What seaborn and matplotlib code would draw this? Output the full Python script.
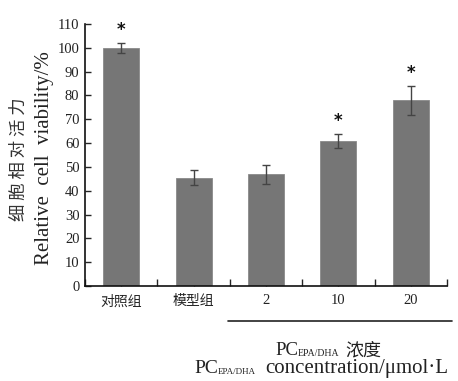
import matplotlib
matplotlib.use("Agg")
import matplotlib.pyplot as plt
import seaborn as sns
import pandas as pd
import numpy as np

categories = ["对照组", "模型组", "2", "10", "20"]
values = [100, 45.5, 47, 61, 78]
errors = [2, 3, 4, 3, 6]
significant = [True, False, False, True, True]
yticks = list(range(0, 111, 10))

sns.set_style("ticks")
plt.rcParams['font.family'] = ['Liberation Serif', 'Noto Sans CJK SC']

df = pd.DataFrame({"group": categories, "viability": values})

fig = plt.figure(figsize=(4.58, 3.81), dpi=100)
ax = fig.add_axes([85/458, 1-286/381, (447-85)/458, (286-24)/381])

sns.barplot(data=df, x="group", y="viability", order=categories, color="#767676",
            saturation=1, width=0.5, errorbar=None, ax=ax, edgecolor="#8a8a8a", linewidth=0.6)
xs = np.arange(len(categories))
ax.errorbar(xs, values, yerr=errors, fmt="none", ecolor="#444444", elinewidth=1.0,
            capsize=3, capthick=1.0)
for x, v, e, s in zip(xs, values, errors, significant):
    if s:
        ax.text(x, v + e + 1.5, "*", ha="center", va="bottom", fontsize=12,
                fontweight="bold", family="DejaVu Sans", color="#111111")

ax.set_xlim(-0.5, len(categories) - 0.5)
ax.set_ylim(0, 110)
ax.set_yticks(yticks)
ax.set_yticklabels([str(t) for t in yticks], fontsize=10.5)
ax.set_xticks(xs)
ax.set_xticklabels(categories, fontsize=10)
ax.set_xticks(np.arange(-0.5, len(categories)), minor=True)
ax.tick_params(axis="x", which="major", direction="in", length=3, width=1, pad=6)
ax.tick_params(axis="x", which="minor", direction="in", length=5, width=1)
ax.tick_params(axis="y", direction="in", length=4, width=1, pad=4)
for lab in ax.get_xticklabels():
    if lab.get_text().isdigit():
        lab.set_family(['Liberation Serif'])
        lab.set_fontsize(10.5)
    else:
        lab.set_family(['Noto Sans CJK SC'])
    lab.set_color("#222222")
for lab in ax.get_yticklabels():
    lab.set_color("#222222")
ax.set_xlabel("")
ax.set_ylabel("")
sns.despine(ax=ax)
for sp in ["left", "bottom"]:
    ax.spines[sp].set_linewidth(1.2)
    ax.spines[sp].set_color("#111111")

# y label (two lines)
fig.text(19/458, 1-159/381, "细 胞 相 对 活 力", rotation=90, ha="center", va="center",
         fontsize=12.5, family=['Noto Sans CJK SC'], color="#333333")
fig.text(45/458, 1-158/381, "Relative  cell  viability/%", rotation=90, ha="center",
         va="center", fontsize=15, family=['Liberation Serif'], color="#222222")

# group underline
fig.add_artist(plt.Line2D([228/458, 452/458], [1-321/381, 1-321/381], color="#222222", lw=1.2))

fig.canvas.draw()
r = fig.canvas.get_renderer()

def place(x_px, y_px, parts):
    x = x_px
    for txt, fam, fs, dy, gap in parts:
        x += gap
        t = fig.text(x/458, 1-(y_px+dy)/381, txt, ha="left", va="baseline", fontsize=fs,
                     family=fam, color="#222222")
        bb = t.get_window_extent(renderer=r)
        x = bb.x1

place(275, 355, [("PC", ['Liberation Serif'], 13.5, 0, 0),
                 ("EPA/DHA", ['Liberation Serif'], 7, 1, 0),
                 ("浓度", ['Noto Sans CJK SC'], 13, 0, 6)])
place(194, 373, [("PC", ['Liberation Serif'], 14, 0, 0),
                 ("EPA/DHA", ['Liberation Serif'], 6.5, 1, 0),
                 ("concentration/μmol·L", ['Liberation Serif'], 15, 0, 9)])

fig.savefig("out.png", dpi=100)
